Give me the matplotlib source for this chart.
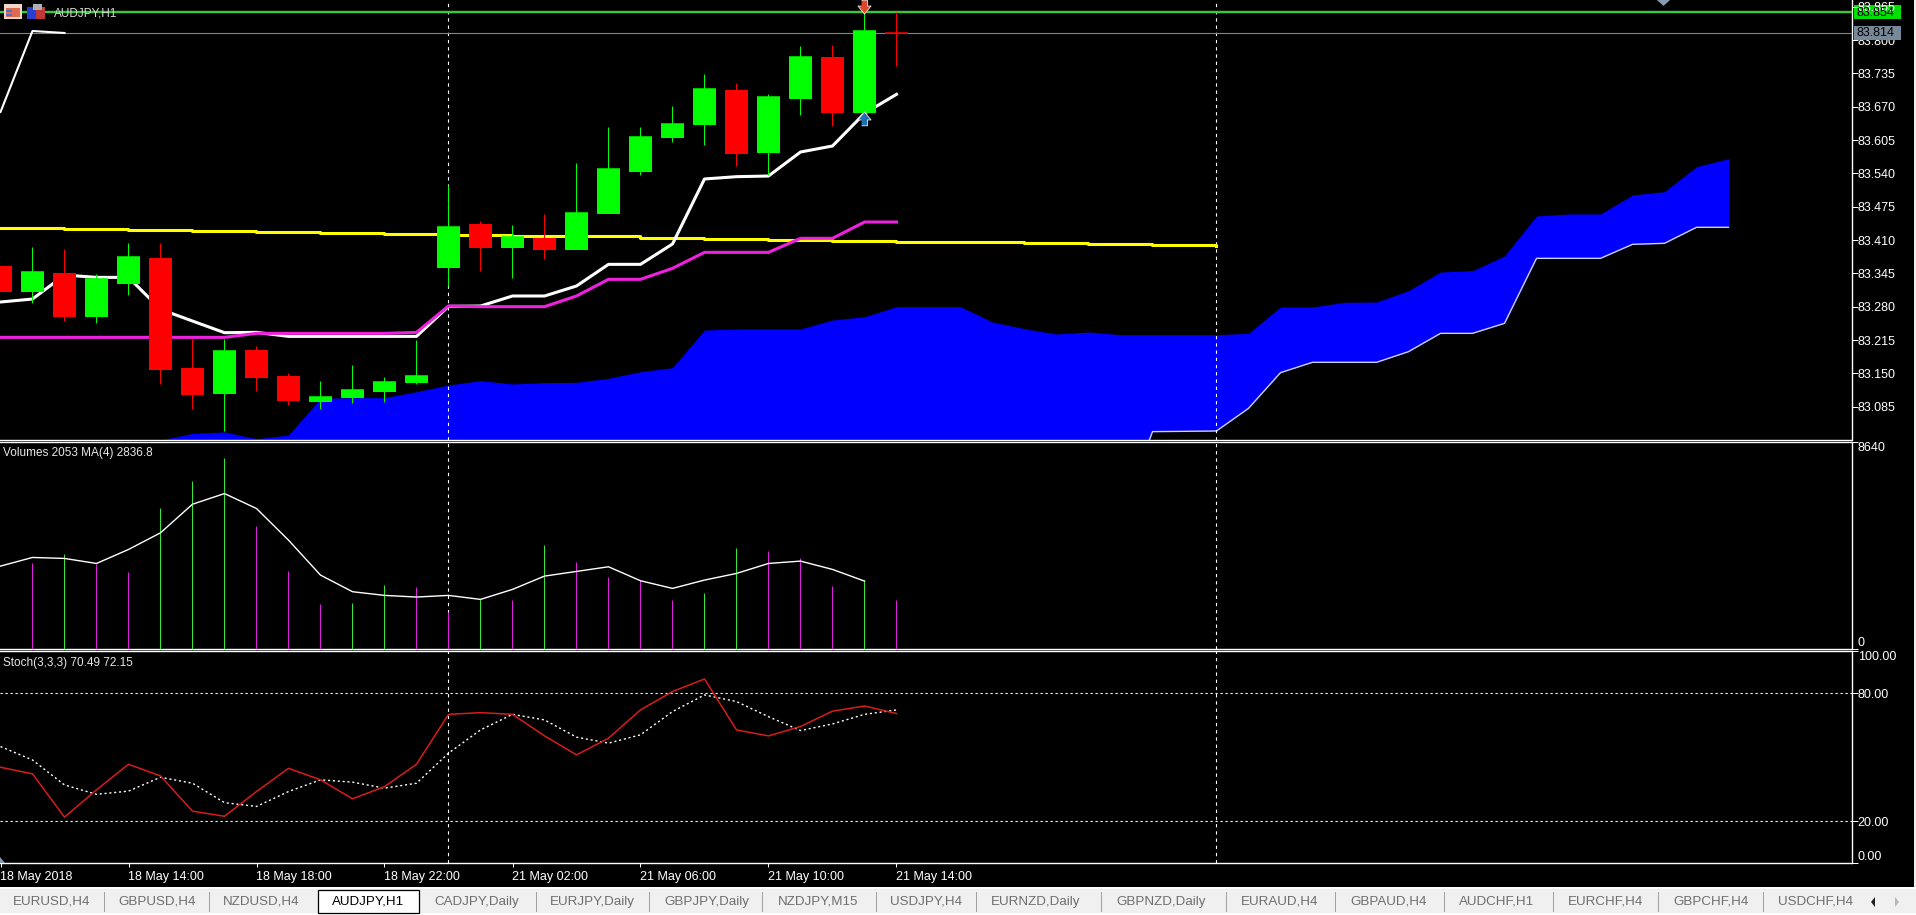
import numpy as np
import matplotlib
matplotlib.use('Agg')
import matplotlib.pyplot as plt
from matplotlib.patches import Rectangle, Polygon

W, H = 1916, 915
PX = 0.72  # one pixel in points at dpi 100

# candles, one row per hour starting 18 May 2018 10:00
opens = [83.3594, 83.3107, 83.3451, 83.2620, 83.3263, 83.3750, 83.1606, 83.1119, 83.1957, 83.1450,
         83.0963, 83.1041, 83.1158, 83.1333, 83.3582, 83.4413, 83.3965, 83.4140, 83.3926, 83.4628,
         83.5446, 83.6109, 83.6363, 83.7025, 83.5817, 83.6870, 83.7669, 83.6597, 83.8137]
closes = [83.3107, 83.3477, 83.2620, 83.3341, 83.3770, 83.1587, 83.1099, 83.1937, 83.1431, 83.0982,
          83.1041, 83.1177, 83.1333, 83.1450, 83.4355, 83.3965, 83.4166, 83.3926, 83.4628, 83.5486,
          83.6109, 83.6363, 83.7045, 83.5797, 83.6889, 83.7669, 83.6597, 83.8176, 83.8137]
highs = [83.3594, 83.3958, 83.3919, 83.3438, 83.4043, 83.4043, 83.2165, 83.2165, 83.2035, 83.1502,
         83.1353, 83.1664, 83.1431, 83.2152, 83.5174, 83.4478, 83.4393, 83.4608, 83.5602, 83.6304,
         83.6304, 83.6713, 83.7337, 83.7162, 83.6948, 83.7883, 83.7903, 83.8546, 83.8546]
lows = [83.3107, 83.2880, 83.2529, 83.2490, 83.3029, 83.1294, 83.0807, 83.0378, 83.1158, 83.0885,
        83.0807, 83.0924, 83.0943, 83.1294, 83.3205, 83.3504, 83.3367, 83.3731, 83.3926, 83.4628,
        83.5369, 83.6012, 83.5953, 83.5544, 83.5369, 83.6538, 83.6324, 83.6597, 83.7493]

tenkan = [83.2893, 83.2951, 83.3419, 83.3373, 83.3373, 83.2750, 83.2522, 83.2295, 83.2301, 83.2223,
          83.2223, 83.2223, 83.2223, 83.2223, 83.2808, 83.2815, 83.3010, 83.3010, 83.3205, 83.3627,
          83.3627, 83.4024, 83.5291, 83.5336, 83.5349, 83.5817, 83.5934, 83.6571, 83.6941]
kijun = [83.2204, 83.2204, 83.2204, 83.2204, 83.2204, 83.2204, 83.2204, 83.2204, 83.2282, 83.2282,
         83.2282, 83.2282, 83.2282, 83.2301, 83.2815, 83.2802, 83.2802, 83.2802, 83.3010, 83.3335,
         83.3335, 83.3549, 83.3861, 83.3861, 83.3861, 83.4134, 83.4134, 83.4452, 83.4452]
chikou = [83.6597, 83.8176, 83.8137]
yellow_ma = [83.433, 83.433, 83.431, 83.431, 83.429, 83.429, 83.428, 83.428, 83.426, 83.426,
             83.424, 83.424, 83.422, 83.422, 83.420, 83.420, 83.418, 83.418, 83.417, 83.417,
             83.415, 83.415, 83.413, 83.413, 83.411, 83.411, 83.409, 83.409, 83.407, 83.407,
             83.406, 83.406, 83.404, 83.404, 83.402, 83.402, 83.400, 83.400, 83.398]

# cloud, bars 5 to 54
span_upper = [83.0203, 83.0333, 83.0359, 83.0229, 83.0300, 83.1015, 83.1028, 83.1028, 83.1145, 83.1275,
              83.1360, 83.1295, 83.1321, 83.1327, 83.1405, 83.1535, 83.1613, 83.2347, 83.2367, 83.2367,
              83.2367, 83.2542, 83.2607, 83.2802, 83.2802, 83.2802, 83.2503, 83.2373, 83.2269, 83.2308,
              83.2256, 83.2256, 83.2256, 83.2256, 83.2282, 83.2796, 83.2796, 83.2887, 83.2893, 83.3114,
              83.3478, 83.3504, 83.3790, 83.4570, 83.4609, 83.4609, 83.4979, 83.5044, 83.5531, 83.5687]
span_lower = [82.87] * 31 + [83.0366, 83.0372, 83.0379, 83.0820, 83.1516, 83.1717, 83.1717, 83.1717, 83.1925,
                             83.2282, 83.2282, 83.2477, 83.3744, 83.3744, 83.3744, 83.4017, 83.4037, 83.4349,
                             83.4349]

# volumes, bars 1 to 28, and the MA(4), bars 0 to 27
volumes = [3606, 3967, 3550, 3232, 5880, 7018, 7975, 5132, 3273, 1886, 1942, 2690, 2607, 1540,
           2080, 2060, 4341, 3648, 3024, 2885, 2053, 2330, 4230, 4105, 3786, 2649, 2885, 2053]
volume_ma = [3468, 3828, 3787, 3578, 4161, 4855, 6047, 6491, 5867, 4549, 3093, 2400, 2247, 2178,
             2247, 2080, 2497, 3051, 3246, 3440, 2857, 2538, 2885, 3162, 3578, 3676, 3329, 2843]

stoch_k = [45.3, 42.2, 21.9, 34.7, 46.7, 41.2, 24.7, 22.3, 33.9, 44.8, 39.4, 30.5, 36.2, 46.7, 70.1,
           70.9, 70.1, 60.0, 51.1, 58.9, 72.2, 80.8, 86.7, 62.8, 60.0, 64.4, 71.6, 74.0, 70.49]
stoch_d = [55.0, 48.7, 37.0, 32.6, 34.1, 40.6, 37.8, 28.7, 26.9, 33.9, 39.4, 38.3, 35.5, 37.8, 51.9,
           62.8, 70.1, 67.5, 59.4, 56.6, 60.5, 71.4, 79.2, 76.1, 69.0, 62.5, 65.6, 70.1, 72.15]

price_ticks = [83.865, 83.800, 83.735, 83.670, 83.605, 83.540, 83.475, 83.410, 83.345, 83.280, 83.215, 83.150, 83.085]
time_ticks = [0, 4, 8, 12, 16, 20, 24, 28]
time_labels = ['18 May 2018', '18 May 14:00', '18 May 18:00', '18 May 22:00',
               '21 May 02:00', '21 May 06:00', '21 May 10:00', '21 May 14:00']
tabs = ['EURUSD,H4', 'GBPUSD,H4', 'NZDUSD,H4', 'AUDJPY,H1', 'CADJPY,Daily', 'EURJPY,Daily', 'GBPJPY,Daily',
        'NZDJPY,M15', 'USDJPY,H4', 'EURNZD,Daily', 'GBPNZD,Daily', 'EURAUD,H4', 'GBPAUD,H4', 'AUDCHF,H1',
        'EURCHF,H4', 'GBPCHF,H4', 'USDCHF,H4']
tab_text_x = [13, 118, 223, 332, 434, 550, 664, 778, 890, 991, 1116, 1241, 1350, 1459, 1568, 1673, 1778]
tab_sep_x = [104, 209, 536, 649, 762, 876, 976, 1101, 1226, 1335, 1444, 1553, 1658, 1763]

plt.rcParams['font.family'] = ['Liberation Sans', 'DejaVu Sans']
plt.rcParams['font.size'] = 9

fig = plt.figure(figsize=(W / 100, H / 100), dpi=100, facecolor='black')


def overlay(z):
    a = fig.add_axes([0, 0, 1, 1], zorder=z)
    a.set_xlim(0, W)
    a.set_ylim(H, 0)
    a.axis('off')
    return a


def pane(top, bottom):
    a = fig.add_axes([0, 1 - bottom / H, 1851.5 / W, (bottom - top) / H], zorder=1, facecolor='black')
    a.set_xlim(-0.5 / 32, 1851 / 32)
    a.yaxis.tick_right()
    a.set_axisbelow(False)
    a.tick_params(axis='y', colors='white', length=4, width=PX, pad=0.5, labelsize=9)
    a.set_xticks([])
    a.spines['left'].set_visible(False)
    for s in ['top', 'right', 'bottom']:
        a.spines[s].set_color('white')
        a.spines[s].set_linewidth(1.0)
    a.axvline(14, color='white', lw=0.8, ls=(0, (3, 3.5)), zorder=2)
    a.axvline(38, color='white', lw=0.8, ls=(0, (3, 3.5)), zorder=2)
    return a


bg = overlay(0)
ax1 = pane(0, 440)
ax2 = pane(442, 649.3)
ax3 = pane(651, 863)
top = overlay(2)

# price pane
x = np.arange(len(opens))
ax1.set_ylim(83.0203, 83.878)
ax1.set_yticks(price_ticks)
ax1.set_yticklabels(['%.3f' % t for t in price_ticks])
ax1.spines['top'].set_visible(False)

xc = np.arange(5, 55)
ax1.fill_between(xc, span_lower, span_upper, color='#0000ff', lw=0, zorder=1)
ax1.plot(xc[30:], span_lower[30:], color='#d0d0ff', lw=1.0, zorder=1.5)

ax1.axhline(83.854, color='#32cd32', lw=1.7, zorder=3)
ax1.axhline(83.814, color='#778899', lw=0.8, zorder=3)
ax1.plot(np.arange(len(yellow_ma)), yellow_ma, color='#ffff00', lw=2.2, drawstyle='steps-post', zorder=3)
ax1.plot(x, tenkan, color='white', lw=2.2, zorder=3)
ax1.plot(x, kijun, color='#f020e0', lw=2.2, zorder=3.2)
ax1.plot(np.arange(len(chikou)), chikou, color='white', lw=1.5, zorder=3)

is_up = np.array(closes) > np.array(opens)
colors = ['#00ff00' if u else '#ff0000' for u in is_up]
ax1.vlines(x, lows, highs, colors=colors, lw=PX, zorder=5)
ax1.bar(x, np.array(closes) - np.array(opens), bottom=opens, width=22 / 32, color=colors,
        edgecolor=colors, lw=PX, zorder=5)
# a doji has no body height, so its bar needs the line drawn as well
ax1.hlines(closes, x - 0.36, x + 0.36, colors=colors, lw=1.1, zorder=5)

down_arrow = [(-0.4, 1), (0.4, 1), (0.4, 0.2), (0.9, 0.2), (0, -0.9), (-0.9, 0.2), (-0.4, 0.2)]
up_arrow = [(vx, -vy) for vx, vy in down_arrow]
ax1.scatter([27], [83.864], marker=down_arrow, s=110, color='#e0452a', edgecolors='#e8e8e8', lw=0.6, zorder=6, clip_on=False)
ax1.scatter([27], [83.648], marker=up_arrow, s=110, color='#1e6fb0', edgecolors='#e8e8e8', lw=0.6, zorder=6)

# volumes pane
vol = np.array(volumes)
vol_up = np.r_[False, vol[1:] > vol[:-1]]
vol_colors = ['#32e632' if u else '#e020e0' for u in vol_up]
ax2.set_ylim(0, 8640)
ax2.vlines(np.arange(1, 29), 0, vol, colors=vol_colors, lw=PX, zorder=3)
ax2.plot(np.arange(len(volume_ma)), volume_ma, color='white', lw=1.0, zorder=4)
ax2.set_yticks([0, 8640])
ax2.set_yticklabels(['0', '8640'])
ax2.get_yticklabels()[0].set_va('bottom')
ax2.get_yticklabels()[1].set_va('top')

# stochastic pane
ax3.set_ylim(0.4, 99.8)
ax3.axhline(80, color='white', lw=0.8, ls=(0, (2, 2.5)), zorder=2)
ax3.axhline(20, color='white', lw=0.8, ls=(0, (2, 2.5)), zorder=2)
ax3.plot(x, stoch_d, color='white', lw=1.0, ls=(0, (1.5, 2)), zorder=3)
ax3.plot(x, stoch_k, color='#d81c1c', lw=1.1, zorder=4)
ax3.set_yticks([0.4, 20, 80, 99.8])
ax3.set_yticklabels(['0.00', '20.00', '80.00', '100.00'])
ax3.get_yticklabels()[0].set_va('bottom')
ax3.get_yticklabels()[3].set_va('top')
ax3.set_xticks(time_ticks)
ax3.set_xticklabels(time_labels, ha='left')
ax3.tick_params(axis='x', colors='white', length=3, width=PX, pad=2.5, labelsize=9)

# price boxes on the axis: the green one sits under the tick labels, the grey one over them
bg.add_patch(Rectangle((1854, 5), 47, 14, color='#00e000', lw=0))
top.add_patch(Rectangle((1854, 26), 47, 14, color='#778899', lw=0))
top.text(1857, 13, '83.854', color='black', fontsize=9, va='center')
top.text(1857, 33.5, '83.814', color='black', fontsize=9, va='center')

# labels inside the panes
top.text(54, 13, 'AUDJPY,H1', color='#d8d8d8', fontsize=8.5, va='center')
top.text(3, 453, 'Volumes 2053 MA(4) 2836.8', color='#e8e8e8', fontsize=8.5, va='center')
top.text(3, 663, 'Stoch(3,3,3) 70.49 72.15', color='#e8e8e8', fontsize=8.5, va='center')

# little toolbar icons and markers
top.add_patch(Rectangle((4, 4), 18, 15, color='#f0d8c8', lw=0))
top.add_patch(Rectangle((6, 8), 14, 9, color='#e06a50', lw=0))
top.add_patch(Rectangle((6, 10), 6, 2, color='#5070d0', lw=0))
top.add_patch(Rectangle((6, 14), 6, 2, color='#5070d0', lw=0))
top.add_patch(Rectangle((27, 7), 9, 12, color='#2a3fd0', lw=0))
top.add_patch(Rectangle((36, 7), 9, 12, color='#c03838', lw=0))
top.add_patch(Rectangle((33, 4), 9, 6, color='#b0b0b0', lw=0))
top.add_patch(Polygon([(1657, 0), (1670, 0), (1663.5, 6)], color='#8a9ab0', lw=0))
top.add_patch(Polygon([(0, 857), (5, 863), (0, 863)], color='#8a9ab0', lw=0))

# tab bar
top.add_patch(Rectangle((0, 886.5), W, 2.5, color='white', lw=0))
top.add_patch(Rectangle((0, 889), W, 24, color='#f0f0f0', lw=0))
top.add_patch(Rectangle((0, 913), W, 2, color='white', lw=0))
top.add_patch(Rectangle((1914, 0), 2, 887, color='#f0f0f0', lw=0))
top.add_patch(Rectangle((318.5, 889.5), 100.5, 23.5, facecolor='white', edgecolor='black', lw=0.9))
for sx in tab_sep_x:
    top.plot([sx, sx], [892, 911], color='#a0a0a0', lw=PX)
for name, tx in zip(tabs, tab_text_x):
    active = name == 'AUDJPY,H1'
    top.text(tx, 902, name, color='black' if active else '#6e6e6e', fontsize=9.6, va='center')
top.add_patch(Polygon([(1875, 897), (1875, 907), (1871, 902)], color='#202020', lw=0))
top.add_patch(Polygon([(1895, 897), (1895, 907), (1899, 902)], color='#b8b8b8', lw=0))

fig.savefig('out.png', dpi=100, facecolor='black')
